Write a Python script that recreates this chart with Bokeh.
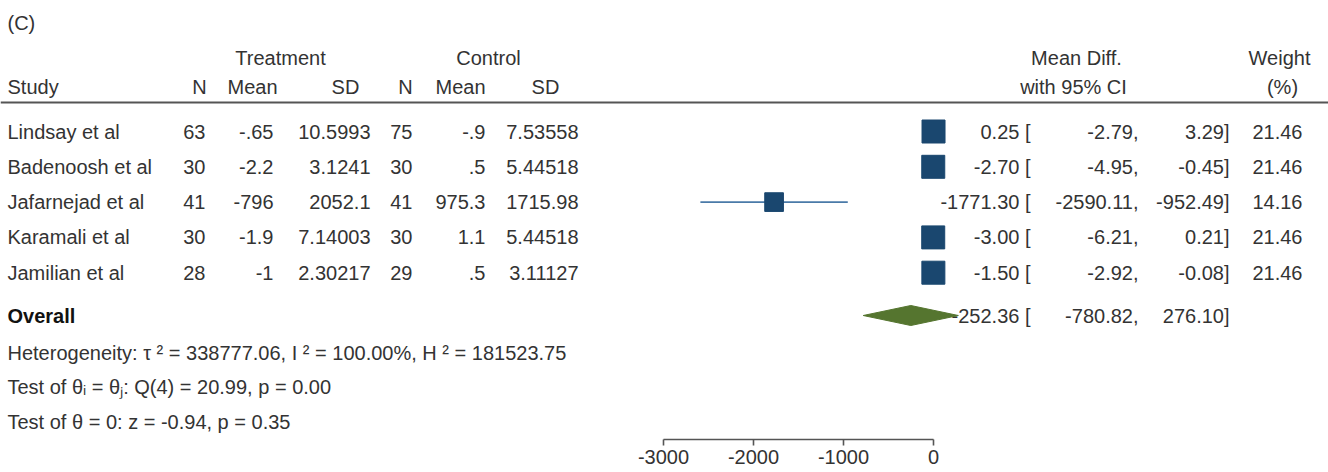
import math
from bokeh.plotting import figure
from bokeh.models import Range1d, LinearAxis, FixedTicker, Label, LabelSet, ColumnDataSource, Span
from bokeh.core.properties import value
from bokeh.embed import file_html
from bokeh.resources import INLINE

# ---------------- data ----------------
studies = ["Lindsay et al", "Badenoosh et al", "Jafarnejad et al", "Karamali et al", "Jamilian et al"]
n_t = ["63", "30", "41", "30", "28"]
mean_t = ["-.65", "-2.2", "-796", "-1.9", "-1"]
sd_t = ["10.5993", "3.1241", "2052.1", "7.14003", "2.30217"]
n_c = ["75", "30", "41", "30", "29"]
mean_c = ["-.9", ".5", "975.3", "1.1", ".5"]
sd_c = ["7.53558", "5.44518", "1715.98", "5.44518", "3.11127"]
md = [0.25, -2.70, -1771.30, -3.00, -1.50]
ci_lo = [-2.79, -4.95, -2590.11, -6.21, -2.92]
ci_hi = [3.29, -0.45, -952.49, 0.21, -0.08]
weight = [21.46, 21.46, 14.16, 21.46, 21.46]
overall_md = -252.36
overall_lo = -780.82
overall_hi = 276.10
x_ticks = [-3000, -2000, -1000, 0]
x_tick_labels = ["-3000", "-2000", "-1000", "0"]
het_text = "Heterogeneity: \u03c4 \u00b2 = 338777.06, I \u00b2 = 100.00%, H \u00b2 = 181523.75"
test1_text = "Test of \u03b8\u1d62 = \u03b8\u2c7c: Q(4) = 20.99, p = 0.00"
test2_text = "Test of \u03b8 = 0: z = -0.94, p = 0.35"

# ---------------- layout ----------------
W, H = 1328, 472
FRAME_BOTTOM = 439
ZERO_PX = 933.0
PX_PER_UNIT = 90.0 / 1000.0
FONT = "Liberation Sans"
FS = "20px"
TXT = "#333333"
NAVY = "#1a476f"
GREEN = "#55752f"

row_y = [131 + 35.3 * i for i in range(len(studies))]
OVERALL_Y = 315
HET_Y, T1_Y, T2_Y = 352, 386, 421

p = figure(width=W, height=H,
           x_range=Range1d(-ZERO_PX / PX_PER_UNIT, (W - ZERO_PX) / PX_PER_UNIT),
           y_range=Range1d(FRAME_BOTTOM, 0),
           x_axis_type=None, y_axis_type=None,
           output_backend="svg", toolbar_location=None,
           min_border_left=0, min_border_right=0, min_border_top=0,
           min_border_bottom=H - FRAME_BOTTOM)
p.outline_line_color = None
p.xgrid.visible = False
p.ygrid.visible = False
p.background_fill_color = "white"
p.border_fill_color = "white"

ax = LinearAxis(ticker=FixedTicker(ticks=x_ticks), bounds=(min(x_ticks), max(x_ticks)))
ax.major_label_overrides = {t: s for t, s in zip(x_ticks, x_tick_labels)}
ax.axis_line_color = "#555555"
ax.axis_line_width = 1.6
ax.major_tick_line_color = "#555555"
ax.major_tick_line_width = 1.6
ax.major_tick_in = 0
ax.major_tick_out = 6
ax.minor_tick_line_color = None
ax.major_label_text_font = FONT
ax.major_label_text_font_size = FS
ax.major_label_text_color = TXT
ax.major_label_standoff = 4
p.add_layout(ax, "below")

# header rule
p.add_layout(Span(location=102, dimension="width", line_color="#555555", line_width=2))


def lab(text, x, y, align="left", bold=False, color=TXT, level=None):
    kw = {}
    if level:
        kw["level"] = level
    p.add_layout(Label(x=x, y=y, x_units="screen", y_units="data", text=text,
                       text_align=align, text_baseline="middle",
                       text_font=FONT, text_font_size=FS,
                       text_font_style="bold" if bold else "normal",
                       text_color=color, **kw))


# headers
lab("(C)", 7, 22)
lab("Treatment", 280, 57, "center")
lab("Control", 488, 57, "center")
lab("Mean Diff.", 1076, 57, "center")
lab("Weight", 1279, 57, "center")
lab("Study", 7, 86)
for t, cx in [("N", 199), ("Mean", 252), ("SD", 345), ("N", 405), ("Mean", 460), ("SD", 545)]:
    lab(t, cx, 86, "center")
lab("with 95% CI", 1073, 86, "center")
lab("(%)", 1282, 86, "center")

# table columns
src = ColumnDataSource(dict(
    y=row_y, study=studies, n_t=n_t, mean_t=mean_t, sd_t=sd_t,
    n_c=n_c, mean_c=mean_c, sd_c=sd_c,
    es=[f"{v:.2f} [" for v in md],
    lo=[f"{v:.2f}," for v in ci_lo],
    hi=[f"{v:.2f}]" for v in ci_hi],
    w=[f"{v:.2f}" for v in weight],
))
cols = [("study", 7, "left"), ("n_t", 205, "right"), ("mean_t", 273, "right"),
        ("sd_t", 370, "right"), ("n_c", 412, "right"), ("mean_c", 485, "right"),
        ("sd_c", 578, "right"), ("es", 1030, "right"), ("lo", 1138, "right"),
        ("hi", 1229, "right"), ("w", 1302, "right")]
for col, x, align in cols:
    p.add_layout(LabelSet(x=x, y="y", x_units="screen", y_units="data", text=col, source=src,
                          text_align=align, text_baseline="middle",
                          text_font=value(FONT), text_font_size=FS, text_color=TXT))

# overall row
lab("Overall", 7, OVERALL_Y, bold=True, color="#111111")
lab(f"{overall_md:.2f} [", 1030, OVERALL_Y, "right", level="underlay")
lab(f"{overall_lo:.2f},", 1138, OVERALL_Y, "right")
lab(f"{overall_hi:.2f}]", 1229, OVERALL_Y, "right")

# stats text
lab(het_text, 7, HET_Y)
lab(test1_text, 7, T1_Y)
lab(test2_text, 7, T2_Y)

# marks
p.segment(x0=ci_lo, x1=ci_hi, y0=row_y, y1=row_y, line_color="#4a7aa8", line_width=1.6)
sizes = [23 * math.sqrt(w / max(weight)) for w in weight]
p.scatter(x=md, y=row_y, size=sizes, marker="square",
          fill_color=NAVY, line_color=NAVY)
p.patch(x=[overall_lo, overall_md, overall_hi, overall_md],
        y=[OVERALL_Y, OVERALL_Y - 10, OVERALL_Y, OVERALL_Y + 10],
        fill_color=GREEN, line_color=GREEN)

open("out.html", "w").write(file_html(p, INLINE))
